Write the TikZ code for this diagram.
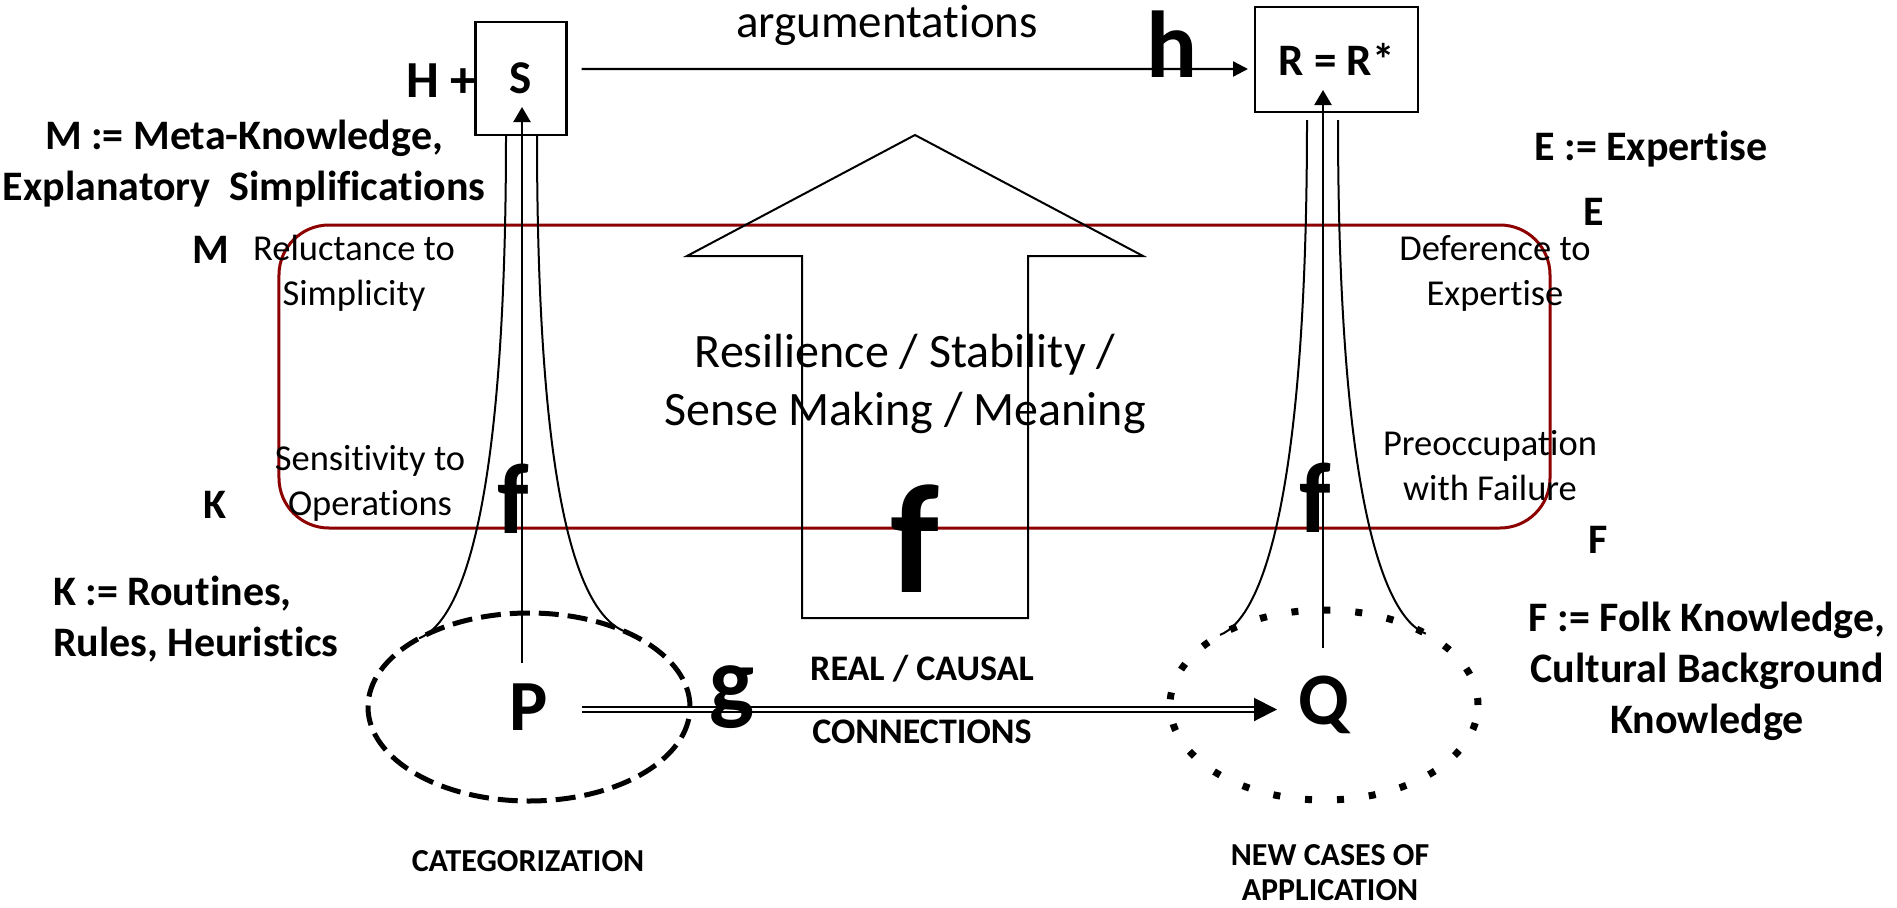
\documentclass[tikz,border=0pt]{standalone}
\usepackage{fontspec}
\setmainfont{Carlito}[Ligatures=NoCommon]
\usetikzlibrary{arrows.meta,calc,shapes.geometric}
\definecolor{framered}{RGB}{140,0,0}

\tikzset{
  every node/.style={inner sep=0pt, outer sep=0pt},
  boxnode/.style={draw, line width=2.5bp},
  frame/.style={draw=framered, line width=3bp, rounded corners=50bp},
  outline/.style={draw, line width=2bp, line join=miter},
  conn/.style={line width=2.3bp},
  trumpet/.style={line width=2bp},
  defbold/.style={font=\fontsize{42bp}{51bp}\selectfont\bfseries},
  quality/.style={font=\fontsize{36.5bp}{45bp}\selectfont},
  central/.style={font=\fontsize{48bp}{58bp}\selectfont},
  smallcaps/.style={font=\fontsize{32bp}{35bp}\selectfont\bfseries},
  linkcaps/.style={font=\fontsize{36bp}{40bp}\selectfont\bfseries},
  funcsmall/.style={font=\fontsize{100bp}{100bp}\selectfont\bfseries},
  funcbig/.style={font=\fontsize{155bp}{155bp}\selectfont\bfseries},
}

\begin{document}
\begin{tikzpicture}[x=1bp,y=-1bp]
\useasboundingbox (0,0) rectangle (1897,908);

% frame around the four principles
\node[frame, minimum width=1271bp, minimum height=303bp] (frame) at (914.5,376.5) {};

% large outlined upward arrow
\draw[outline] (915,135) -- (1143,256) -- (1028,256) -- (1028,618)
  -- (802,618) -- (802,256) -- (687,256) -- cycle;

% boxes
\node[boxnode, minimum width=91bp, minimum height=113bp,
      font=\fontsize{47bp}{50bp}\selectfont\bfseries] (S) at (521,78.5) {S};
\node[boxnode, minimum width=163bp, minimum height=105bp,
      font=\fontsize{45bp}{50bp}\selectfont\bfseries] (R) at (1336.5,59.5) {R = R*};

% ellipses
\node[ellipse, draw, line width=5bp, dash pattern=on 20bp off 9bp,
      minimum width=322bp, minimum height=188bp,
      font=\fontsize{72bp}{72bp}\selectfont\bfseries] (P) at (529,707) {P};
\node[ellipse, draw, line width=7bp, dash pattern=on 7bp off 25bp,
      minimum width=308bp, minimum height=190bp,
      font=\fontsize{74bp}{74bp}\selectfont\bfseries] (Q) at (1324,705) {Q};

% argumentation arrow
\draw[conn, -{Triangle[length=15bp,width=15bp]}]
  ($(S.east)+(15,-9.5)$) -- ($(R.west)+(-7,9.5)$);

% vertical arrows
\draw[conn, -{Triangle[length=15bp,width=17bp]}]
  ($(P.center)+(-7,-44)$) -- ($(S.south)+(1,-28)$);
\draw[conn, -{Triangle[length=15bp,width=17bp]}]
  ($(Q.center)+(-1,-57)$) -- ($(R.south)+(-13.5,-22)$);

% flared curves
\draw[trumpet] ($(S.south)+(-15,0)$) .. controls +(0,365) and +(45,-18) .. (P.148);
\draw[trumpet] ($(S.south)+(16,0)$) .. controls +(0,365) and +(-47,-18) .. (P.38);
\draw[trumpet] ($(R.south)+(-29.5,8)$) .. controls +(0,365) and +(45,-18) .. (Q.146);
\draw[trumpet] ($(R.south)+(1.5,8)$) .. controls +(0,365) and +(-45,-18) .. (Q.35);

% real / causal connection
\draw[double, line width=2bp, double distance=3bp, -{Triangle[length=23bp,width=23bp]}]
  ($(P.center)+(53,2.5)$) -- ($(Q.center)+(-47,4.5)$);

% labels
\node[anchor=base, font=\fontsize{47bp}{50bp}\selectfont] (argu) at (887,37) {argumentations};
\node[anchor=base, font=\fontsize{95bp}{95bp}\selectfont\bfseries] (hlbl) at (1172,77) {h};
\node[anchor=base west, font=\fontsize{52bp}{52bp}\selectfont\bfseries] (Hplus) at (406,97) {H +};

\node[defbold, align=center, anchor=base] (Mdef) at (244,200)
  {M := Meta-Knowledge,\\Explanatory\ \ Simplifications};
\node[defbold, anchor=base] (Mlbl) at (211,263) {M};
\node[defbold, anchor=base] (Klbl) at (215,518) {K};
\node[defbold, align=left, anchor=base west] (Kdef) at (53,656)
  {K := Routines,\\Rules, Heuristics};
\node[defbold, anchor=base] (Edef) at (1651,160) {E := Expertise};
\node[defbold, anchor=base] (Elbl) at (1594,225) {E};
\node[defbold, anchor=base] (Flbl) at (1598,553) {F};
\node[defbold, align=center, anchor=base] (Fdef) at (1707,733)
  {F := Folk Knowledge,\\Cultural Background\\Knowledge};

\node[quality, align=center, anchor=base] (reluct) at (354,305) {Reluctance to\\Simplicity};
\node[quality, align=center, anchor=base] (sensit) at (370,515) {Sensitivity to\\Operations};
\node[quality, align=center, anchor=base] (defer) at (1495,305) {Deference to\\Expertise};
\node[quality, align=center, anchor=base] (preocc) at (1490,500) {Preoccupation\\with Failure};

\node[central, align=center, anchor=base] (resil) at (905,425)
  {Resilience / Stability /\\Sense Making / Meaning};

\node[funcsmall, anchor=base] (fleft) at (513,533) {f};
\node[funcsmall, anchor=base] (fright) at (1315,532) {f};
\node[funcbig, anchor=base] (fmid) at (915,592) {f};
\node[font=\fontsize{95bp}{95bp}\selectfont\bfseries, anchor=base] (glbl) at (732,712) {g};

\node[linkcaps, anchor=base] (real) at (922,680) {REAL / CAUSAL};
\node[linkcaps, anchor=base] (connlbl) at (922,743) {CONNECTIONS};
\node[smallcaps, anchor=base] (categ) at (528,871) {CATEGORIZATION};
\node[smallcaps, align=center, anchor=base] (newcases) at (1330,900) {NEW CASES OF\\APPLICATION};
\end{tikzpicture}
\end{document}
